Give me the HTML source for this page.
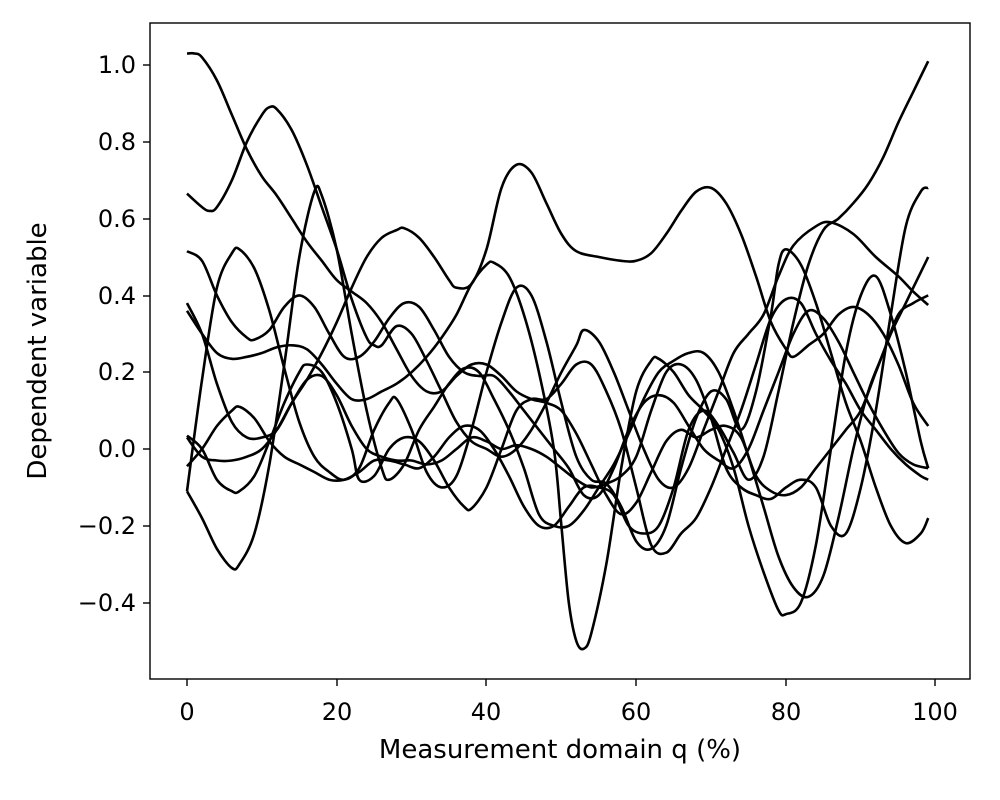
<!DOCTYPE html>
<html><head><meta charset="utf-8"><style>
body{margin:0;background:#fff;}
svg{display:block;font-family:"DejaVu Sans","Liberation Sans",sans-serif;}
</style></head><body>
<svg id="s" width="1000" height="800" viewBox="0 0 1000 800">
<rect width="1000" height="800" fill="#fff"/>
<g id="curves" fill="none" stroke="#000" stroke-width="2.6" stroke-linejoin="round"></g>
<rect x="150" y="23" width="820" height="656" fill="none" stroke="#000" stroke-width="1.4"/>
<g stroke="#000" stroke-width="1.4">
<line x1="187" y1="679" x2="187" y2="686"/><line x1="337" y1="679" x2="337" y2="686"/><line x1="486" y1="679" x2="486" y2="686"/><line x1="636" y1="679" x2="636" y2="686"/><line x1="786" y1="679" x2="786" y2="686"/><line x1="935" y1="679" x2="935" y2="686"/>
<line x1="143" y1="65" x2="150" y2="65"/><line x1="143" y1="142" x2="150" y2="142"/><line x1="143" y1="219" x2="150" y2="219"/><line x1="143" y1="296" x2="150" y2="296"/><line x1="143" y1="372" x2="150" y2="372"/><line x1="143" y1="449" x2="150" y2="449"/><line x1="143" y1="526" x2="150" y2="526"/><line x1="143" y1="603" x2="150" y2="603"/>
</g>
<g font-size="24" fill="#000" text-anchor="middle">
<text x="187" y="720">0</text><text x="337" y="720">20</text><text x="486" y="720">40</text><text x="636" y="720">60</text><text x="786" y="720">80</text><text x="935" y="720">100</text>
<text x="560" y="758" font-size="26">Measurement domain q (%)</text>
</g>
<g font-size="24" fill="#000" text-anchor="end">
<text x="136" y="73">1.0</text><text x="136" y="150">0.8</text><text x="136" y="227">0.6</text><text x="136" y="304">0.4</text><text x="136" y="380">0.2</text><text x="136" y="457">0.0</text><text x="136" y="534">−0.2</text><text x="136" y="611">−0.4</text>
</g>
<text x="46" y="351" font-size="26" text-anchor="middle" transform="rotate(-90 46 351)">Dependent variable</text>
</svg>
<script>
var C=[
[[0,1.03],[1,1.03],[2,1.02],[4,0.96],[6,0.87],[8,0.78],[10,0.71],[12,0.66],[14,0.60],[16,0.54],[18,0.49],[20,0.44],[22,0.41],[24,0.38],[26,0.33],[28,0.26],[30,0.19],[32,0.15],[34,0.15],[36,0.19],[38,0.22],[40,0.22],[42,0.19],[44,0.15],[46,0.13],[48,0.12],[50,0.10],[52,0.04],[54,-0.04],[56,-0.12],[58,-0.17],[60,-0.14],[62,-0.06],[64,0.02],[66,0.05],[68,0.03],[70,0.05],[72,0.06],[74,0.03],[76,-0.07],[78,-0.11],[80,-0.12],[82,-0.1],[84,-0.05],[86,0.0],[88,0.05],[90,0.1],[92,0.2],[94,0.3],[96,0.38],[98,0.46],[99,0.50]],
[[0,0.665],[2,0.63],[3,0.62],[4,0.63],[6,0.70],[8,0.80],[10,0.87],[11,0.89],[12,0.885],[14,0.83],[16,0.74],[18,0.63],[20,0.52],[22,0.39],[24,0.29],[25,0.27],[26,0.27],[28,0.32],[30,0.30],[32,0.23],[34,0.15],[36,0.07],[38,0.02],[40,0.0],[42,-0.02],[44,0.0],[46,0.05],[48,0.12],[50,0.2],[52,0.27],[53,0.31],[55,0.28],[57,0.2],[59,0.1],[61,0.0],[63,-0.08],[65,-0.1],[67,-0.05],[69,0.05],[71,0.15],[73,0.25],[75,0.3],[77,0.35],[79,0.45],[81,0.53],[84,0.58],[86,0.59],[89,0.56],[92,0.5],[95,0.45],[97,0.41],[99,0.375]],
[[0,0.03],[2,-0.02],[4,-0.03],[6,-0.03],[8,-0.02],[10,0.0],[12,0.05],[14,0.12],[16,0.18],[18,0.25],[20,0.33],[22,0.42],[24,0.50],[26,0.55],[28,0.57],[29,0.575],[31,0.55],[33,0.50],[35,0.44],[36,0.42],[38,0.43],[40,0.52],[42,0.68],[44,0.74],[46,0.72],[48,0.64],[50,0.56],[52,0.515],[55,0.50],[58,0.49],[60,0.49],[62,0.51],[64,0.56],[66,0.62],[68,0.67],[70,0.68],[72,0.64],[74,0.56],[76,0.45],[78,0.33],[80,0.26],[81,0.24],[83,0.27],[85,0.3],[87,0.35],[89,0.37],[91,0.35],[93,0.3],[95,0.22],[97,0.12],[99,0.06]],
[[0,-0.045],[2,0.0],[4,0.06],[6,0.1],[7,0.11],[9,0.08],[11,0.02],[13,-0.02],[15,-0.04],[17,-0.06],[19,-0.08],[21,-0.08],[23,-0.06],[25,-0.03],[27,-0.03],[29,-0.04],[31,-0.05],[33,-0.02],[35,0.03],[37,0.06],[39,0.05],[41,0.0],[43,-0.07],[45,-0.15],[47,-0.2],[49,-0.2],[51,-0.15],[53,-0.1],[55,-0.1],[57,-0.12],[59,-0.2],[61,-0.22],[63,-0.2],[65,-0.1],[67,0.05],[69,0.1],[71,0.06],[73,-0.01],[75,-0.08],[77,-0.02],[79,0.15],[81,0.33],[83,0.48],[85,0.57],[87,0.6],[89,0.64],[91,0.69],[93,0.76],[95,0.85],[97,0.93],[99,1.01]],
[[0,0.515],[2,0.49],[4,0.40],[6,0.33],[8,0.29],[9,0.285],[11,0.31],[13,0.37],[15,0.40],[17,0.37],[19,0.30],[21,0.24],[23,0.24],[25,0.28],[27,0.34],[29,0.38],[31,0.37],[33,0.31],[35,0.24],[37,0.20],[39,0.19],[41,0.19],[43,0.15],[45,0.1],[47,0.05],[49,0.0],[51,-0.05],[53,-0.12],[55,-0.12],[57,-0.05],[59,0.05],[61,0.12],[63,0.14],[65,0.12],[67,0.06],[69,0.0],[71,-0.03],[73,-0.05],[75,0.0],[77,0.1],[79,0.2],[81,0.3],[83,0.36],[85,0.34],[87,0.28],[89,0.2],[91,0.12],[93,0.05],[95,-0.01],[97,-0.04],[99,-0.05]],
[[0,-0.11],[2,-0.18],[4,-0.26],[6,-0.31],[7,-0.30],[9,-0.22],[11,-0.04],[13,0.22],[15,0.50],[17,0.67],[18,0.66],[20,0.52],[22,0.30],[24,0.10],[26,-0.05],[27,-0.08],[29,-0.04],[31,0.05],[33,0.11],[35,0.17],[37,0.21],[39,0.2],[41,0.13],[43,0.05],[45,-0.05],[47,-0.17],[49,-0.20],[51,-0.20],[53,-0.16],[55,-0.1],[57,-0.04],[59,0.04],[61,0.13],[63,0.2],[65,0.23],[67,0.25],[69,0.25],[71,0.2],[73,0.1],[75,-0.02],[77,-0.15],[79,-0.28],[81,-0.36],[83,-0.385],[85,-0.33],[87,-0.18],[89,0.0],[91,0.15],[93,0.25],[95,0.35],[97,0.38],[99,0.40]],
[[0,-0.11],[2,0.18],[4,0.42],[6,0.51],[7,0.52],[9,0.47],[11,0.36],[13,0.21],[15,0.07],[17,-0.02],[19,-0.06],[21,-0.08],[23,-0.05],[25,0.05],[27,0.12],[28,0.13],[30,0.05],[32,-0.06],[34,-0.1],[36,-0.07],[38,0.05],[40,0.2],[42,0.33],[44,0.42],[46,0.40],[48,0.28],[50,0.12],[52,-0.02],[54,-0.08],[56,-0.09],[58,-0.15],[60,-0.24],[62,-0.26],[64,-0.2],[66,-0.05],[68,0.08],[70,0.15],[72,0.13],[74,0.05],[76,0.15],[78,0.35],[79,0.48],[80,0.52],[82,0.48],[84,0.38],[86,0.25],[88,0.12],[90,0.02],[92,-0.1],[94,-0.2],[96,-0.245],[98,-0.22],[99,-0.18]],
[[0,0.38],[2,0.3],[4,0.17],[6,0.07],[8,0.03],[10,0.03],[12,0.05],[14,0.12],[16,0.18],[18,0.19],[20,0.14],[22,0.06],[24,0.0],[26,-0.02],[28,-0.03],[30,-0.03],[32,-0.04],[34,-0.03],[36,0.0],[38,0.03],[40,0.02],[42,0.0],[44,0.01],[46,0.0],[48,-0.02],[50,-0.05],[52,-0.08],[54,-0.1],[56,-0.09],[58,-0.07],[60,-0.02],[62,0.1],[64,0.2],[66,0.22],[68,0.18],[70,0.08],[72,-0.05],[74,-0.1],[76,-0.12],[78,-0.13],[80,-0.1],[82,-0.08],[84,-0.1],[86,-0.2],[88,-0.22],[90,-0.1],[92,0.1],[94,0.35],[96,0.58],[98,0.67],[99,0.68]],
[[0,0.36],[2,0.3],[4,0.25],[6,0.235],[8,0.24],[10,0.25],[12,0.265],[14,0.27],[16,0.26],[18,0.22],[20,0.17],[22,0.13],[24,0.13],[26,0.15],[28,0.17],[30,0.2],[32,0.24],[34,0.29],[36,0.35],[38,0.43],[40,0.48],[41,0.485],[43,0.45],[45,0.35],[47,0.2],[49,0.0],[50,-0.2],[51,-0.4],[52,-0.5],[53,-0.52],[54,-0.48],[56,-0.3],[58,-0.05],[60,0.15],[62,0.23],[63,0.235],[65,0.2],[67,0.14],[69,0.1],[71,0.05],[73,-0.05],[75,-0.2],[77,-0.32],[79,-0.42],[80,-0.43],[82,-0.4],[84,-0.25],[86,0.0],[88,0.25],[90,0.4],[92,0.45],[94,0.35],[96,0.2],[98,0.02],[99,-0.05]],
[[0,0.035],[2,0.0],[4,-0.08],[6,-0.11],[7,-0.11],[9,-0.07],[11,0.02],[13,0.12],[15,0.2],[16,0.22],[18,0.2],[20,0.12],[22,0.0],[23,-0.08],[25,-0.07],[27,0.0],[29,0.03],[31,0.02],[33,-0.03],[35,-0.1],[37,-0.15],[38,-0.155],[40,-0.1],[42,0.0],[44,0.1],[46,0.13],[48,0.13],[50,0.17],[52,0.22],[54,0.22],[56,0.15],[58,0.05],[60,-0.1],[62,-0.25],[64,-0.27],[66,-0.22],[68,-0.18],[70,-0.1],[72,0.0],[74,0.1],[76,0.22],[78,0.34],[80,0.39],[82,0.38],[84,0.3],[86,0.23],[88,0.17],[90,0.1],[92,0.05],[94,0.0],[96,-0.04],[98,-0.07],[99,-0.08]]
];
function X(q){return 187+q*7.487;}function Y(v){return 449-v*384;}
var g=document.getElementById('curves'),h='';
C.forEach(function(c){
 var p=c.map(function(a){return[X(a[0]),Y(a[1])];});
 var d='M'+p[0][0].toFixed(1)+' '+p[0][1].toFixed(1);
 for(var i=0;i<p.length-1;i++){
  var p0=p[i-1]||p[i],p1=p[i],p2=p[i+1],p3=p[i+2]||p2;
  var c1=[p1[0]+(p2[0]-p0[0])/6,p1[1]+(p2[1]-p0[1])/6],c2=[p2[0]-(p3[0]-p1[0])/6,p2[1]-(p3[1]-p1[1])/6];
  d+='C'+c1[0].toFixed(1)+' '+c1[1].toFixed(1)+' '+c2[0].toFixed(1)+' '+c2[1].toFixed(1)+' '+p2[0].toFixed(1)+' '+p2[1].toFixed(1);
 }
 h+='<path d="'+d+'"/>';
});
g.innerHTML=h;
</script>
</body></html>
